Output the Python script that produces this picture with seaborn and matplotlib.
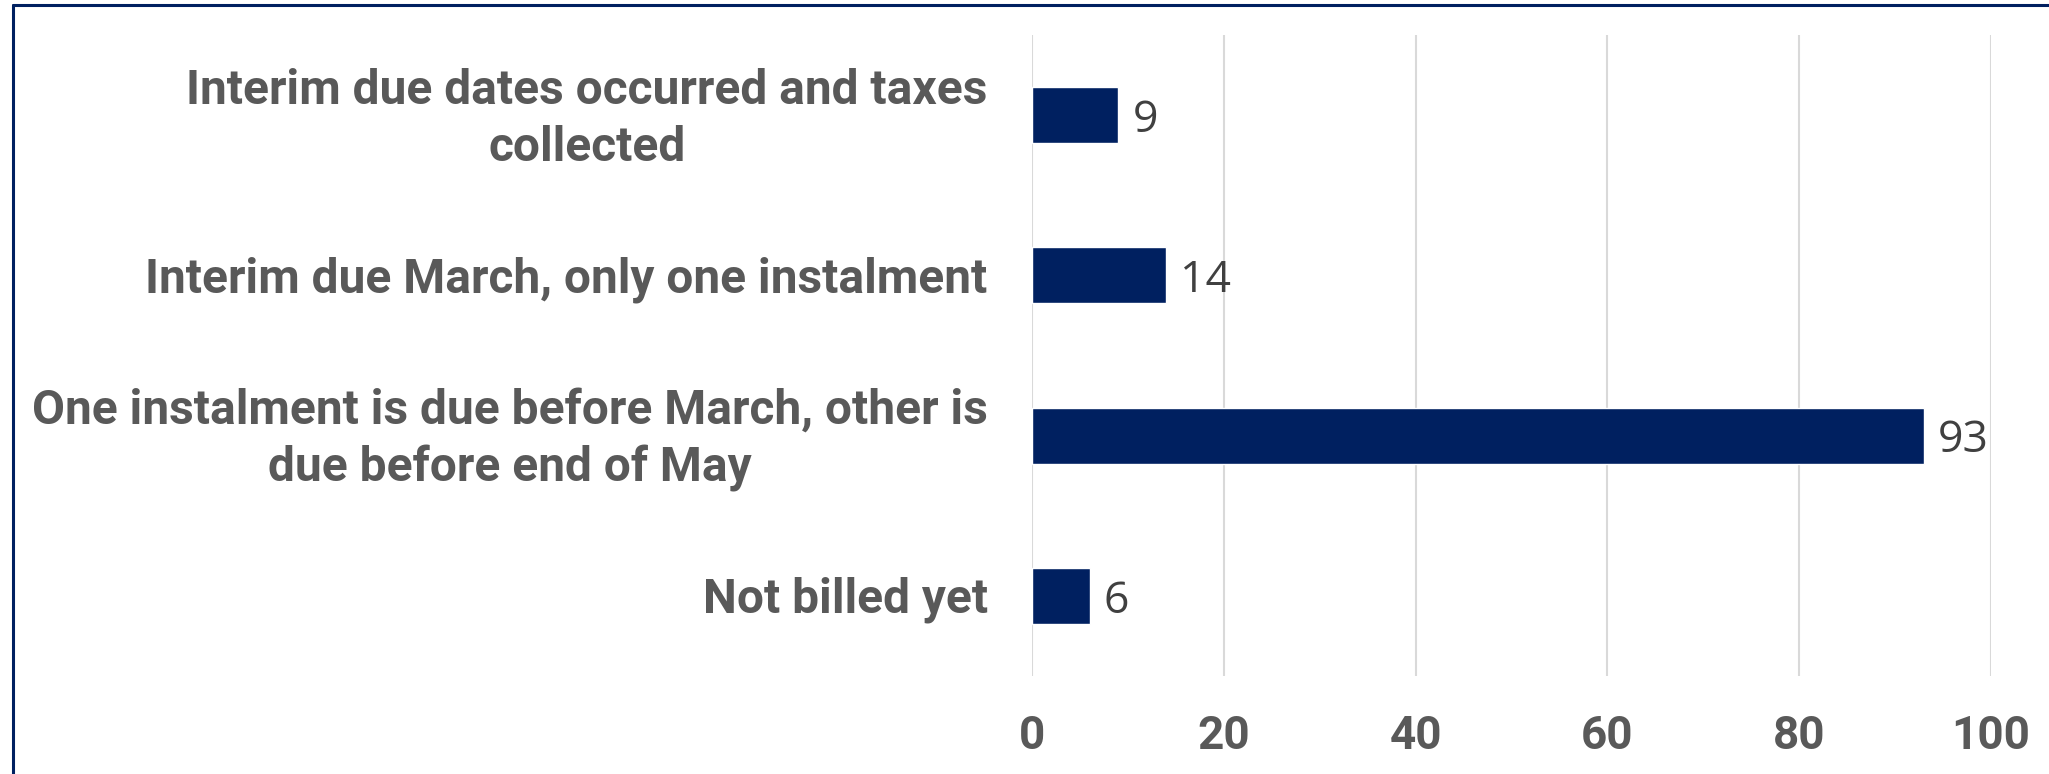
import matplotlib
matplotlib.use("Agg")
import matplotlib.pyplot as plt
import matplotlib.transforms as mtransforms
from matplotlib.lines import Line2D
import seaborn as sns
import pandas as pd

# Billing status of interim property taxes (number of municipalities)
categories = [
    "Interim due dates occurred and taxes\ncollected",
    "Interim due March, only one instalment",
    "One instalment is due before March, other is\ndue before end of May",
    "Not billed yet",
]
counts = [9, 14, 93, 6]
x_ticks = [0, 20, 40, 60, 80, 100]

df = pd.DataFrame({"category": categories, "count": counts})

sns.set_style("white")
plt.rcParams["font.family"] = ["Roboto", "DejaVu Sans"]

NAVY = "#002060"
LABEL_GREY = "#595959"
VALUE_GREY = "#404040"

fig = plt.figure(figsize=(20.49, 7.74), dpi=100)
ax = fig.add_axes([0.5037, 0.1266, 0.4680, 0.8282])

sns.barplot(data=df, y="category", x="count", orient="h", color=NAVY,
            width=0.35, saturation=1, ax=ax)

ax.set_xlim(0, 100)
ax.set_ylim(3.5, -0.5)
ax.set_xticks(x_ticks)
ax.xaxis.grid(True, color="#d9d9d9", linewidth=1.5)
ax.set_axisbelow(True)
for side in ["top", "right", "bottom", "left"]:
    ax.spines[side].set_visible(False)
ax.set_xlabel("")
ax.set_ylabel("")
ax.tick_params(axis="both", length=0)
ax.tick_params(axis="x", pad=27)
ax.tick_params(axis="y", pad=32)

for lab in ax.get_xticklabels():
    lab.set_fontsize(33)
    lab.set_fontweight("bold")
    lab.set_color(LABEL_GREY)

# Nudge the category labels slightly downward
shift_down = mtransforms.ScaledTranslation(0, -3 / 72, fig.dpi_scale_trans)
for lab in ax.get_yticklabels():
    lab.set_fontsize(34.5)
    lab.set_fontweight("bold")
    lab.set_color(LABEL_GREY)
    lab.set_multialignment("center")
    lab.set_linespacing(1.3)
    lab.set_verticalalignment("center")
    lab.set_transform(lab.get_transform() + shift_down)

for cont in ax.containers:
    texts = ax.bar_label(cont, labels=[str(v) for v in counts], padding=10,
                         fontsize=32, color=VALUE_GREY,
                         family=["Open Sans", "DejaVu Sans"])
    for t in texts:
        t.set_verticalalignment("center_baseline")

# Frame lines along the top and left edges of the figure
fig.add_artist(Line2D([0.0063, 0.0063], [0.0, 0.9935], transform=fig.transFigure,
                      color=NAVY, linewidth=2.2))
fig.add_artist(Line2D([0.0063, 1.0], [0.9935, 0.9935], transform=fig.transFigure,
                      color=NAVY, linewidth=2.2))

fig.savefig("out.png", dpi=100, facecolor="white")
